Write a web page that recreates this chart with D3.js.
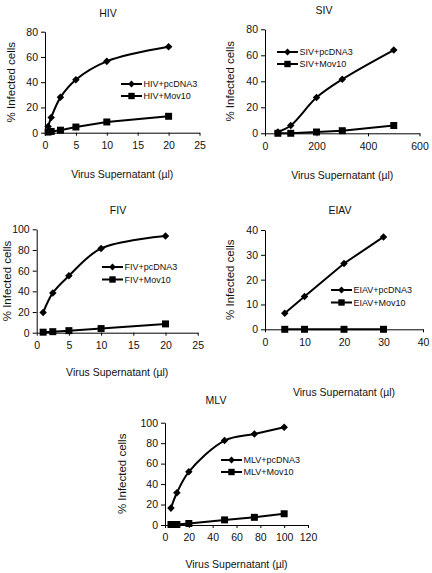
<!DOCTYPE html>
<html><head><meta charset="utf-8">
<script src="https://cdn.jsdelivr.net/npm/d3@7"></script>
<style>
html,body{margin:0;padding:0;background:#fff;}
svg text{font-family:"Liberation Sans",Arial,sans-serif;fill:#111;}
</style></head>
<body><svg id="c" width="432" height="573"></svg>
<script>
// ---- data ----
const hivDose = [0.5, 1, 2.5, 5, 10, 20];
const hivPcDNA3 = [5, 12, 28, 42, 56.5, 68];
const hivMov10 = [0.5, 1, 2, 4.5, 8.5, 13];
const hivXTicks = [0, 5, 10, 15, 20, 25];
const hivYTicks = [0, 20, 40, 60, 80];

const sivDose = [50, 100, 200, 300, 500];
const sivPcDNA3 = [1, 6, 27.5, 41.5, 64];
const sivMov10 = [0, 0, 1, 2, 6];
const sivXTicks = [0, 200, 400, 600];
const sivYTicks = [0, 20, 40, 60, 80];

const fivDose = [1, 2.5, 5, 10, 20];
const fivPcDNA3 = [19.5, 38.5, 55, 81.5, 93.5];
const fivMov10 = [0.5, 1, 2, 4, 8.5];
const fivXTicks = [0, 5, 10, 15, 20, 25];
const fivYTicks = [0, 20, 40, 60, 80, 100];

const eiavDose = [5, 10, 20, 30];
const eiavPcDNA3 = [6.5, 13.2, 26.5, 37.2];
const eiavMov10 = [0, 0, 0, 0];
const eiavXTicks = [0, 10, 20, 30, 40];
const eiavYTicks = [0, 10, 20, 30, 40];

const mlvDose = [5, 10, 20, 50, 75, 100];
const mlvPcDNA3 = [16.5, 31.5, 52, 82.5, 89, 95.5];
const mlvMov10 = [0.5, 0.5, 1.5, 5, 7.5, 11];
const mlvXTicks = [0, 20, 40, 60, 80, 100, 120];
const mlvYTicks = [0, 20, 40, 60, 80, 100];

const xLabel = "Virus Supernatant (\u00b5l)";
const yLabel = "% Infected cells";

const svg = d3.select("#c");

function panel(o) {
  const g = svg.append("g");
  const xd = o.xTicks, yd = o.yTicks;
  const x = d3.scaleLinear().domain([xd[0], xd[xd.length-1]]).range([o.l, o.r]);
  const y = d3.scaleLinear().domain([yd[0], yd[yd.length-1]]).range([o.b, o.t]);

  const xa = g.append("g").attr("transform", `translate(0,${o.b})`)
    .call(d3.axisBottom(x).tickValues(xd).tickSize(3).tickSizeOuter(0).tickPadding(6));
  const ya = g.append("g").attr("transform", `translate(${o.l},0)`)
    .call(d3.axisLeft(y).tickValues(yd).tickSize(4).tickSizeOuter(0).tickPadding(3));
  [xa, ya].forEach(a => {
    a.selectAll("path,line").attr("stroke", "#000").attr("stroke-width", 1);
    a.selectAll("text").attr("font-size", 10.5).attr("fill", "#111")
      .attr("font-family", '"Liberation Sans",Arial,sans-serif');
  });
  xa.selectAll("text").attr("dy", "0.71em");

  g.append("text").attr("x", o.tx).attr("y", o.ty).attr("text-anchor", "middle")
    .attr("font-size", 10.5).text(o.title);
  g.append("text").attr("x", (o.l + o.r) / 2).attr("y", o.xly)
    .attr("text-anchor", "middle").attr("font-size", 10.5).text(xLabel);
  g.append("text").attr("transform", `translate(${o.ylx},${(o.t + o.b) / 2}) rotate(-90)`)
    .attr("text-anchor", "middle").attr("font-size", 11.5).text(yLabel);

  const line = d3.line().x((d, i) => x(o.dose[i])).y(d => y(d));
  const series = [
    {vals: o.pc, name: o.title + "+pcDNA3", shape: "diamond", curve: o.curve1 ? d3.curveCatmullRom.alpha(0.5) : d3.curveLinear},
    {vals: o.mv, name: o.title + "+Mov10", shape: "square", curve: d3.curveLinear}
  ];
  const sym = s => s === "diamond"
    ? d3.symbol().type(d3.symbolDiamond2).size(36)()
    : d3.symbol().type(d3.symbolSquare2).size(62)();

  series.forEach((s, k) => {
    g.append("path").datum(s.vals).attr("fill", "none").attr("stroke", "#000")
      .attr("stroke-width", 2).attr("d", line.curve(s.curve));
    g.selectAll(null).data(s.vals).enter().append("path")
      .attr("transform", (d, i) => `translate(${x(o.dose[i])},${y(d)})`)
      .attr("d", sym(s.shape)).attr("fill", "#000");
    // legend
    const ly = o.ly + k * o.lgap;
    g.append("line").attr("x1", o.lx).attr("x2", o.lx + 21).attr("y1", ly).attr("y2", ly)
      .attr("stroke", "#000").attr("stroke-width", 2);
    g.append("path").attr("transform", `translate(${o.lx + 10.5},${ly})`)
      .attr("d", s.shape === "diamond" ? d3.symbol().type(d3.symbolDiamond2).size(30)() : d3.symbol().type(d3.symbolSquare2).size(52)())
      .attr("fill", "#000");
    g.append("text").attr("x", o.lx + 22.5).attr("y", ly + 3.2).attr("font-size", 9).text(s.name);
  });
}

panel({title: "HIV", dose: hivDose, pc: hivPcDNA3, mv: hivMov10, xTicks: hivXTicks, yTicks: hivYTicks,
  l: 45, r: 199.5, t: 31.7, b: 132.7, tx: 108, ty: 17, xly: 178, ylx: 15, lx: 121, ly: 84, lgap: 12, curve1: true});
panel({title: "SIV", dose: sivDose, pc: sivPcDNA3, mv: sivMov10, xTicks: sivXTicks, yTicks: sivYTicks,
  l: 265, r: 419.5, t: 29.3, b: 133.3, tx: 324, ty: 14, xly: 179, ylx: 234, lx: 277, ly: 52, lgap: 12, curve1: true});
panel({title: "FIV", dose: fivDose, pc: fivPcDNA3, mv: fivMov10, xTicks: fivXTicks, yTicks: fivYTicks,
  l: 36.7, r: 197.7, t: 229.3, b: 332.7, tx: 118, ty: 214, xly: 376, ylx: 11, lx: 102, ly: 267, lgap: 12.5, curve1: true});
panel({title: "EIAV", dose: eiavDose, pc: eiavPcDNA3, mv: eiavMov10, xTicks: eiavXTicks, yTicks: eiavYTicks,
  l: 265, r: 423, t: 230, b: 329.3, tx: 340, ty: 214, xly: 396, ylx: 234, lx: 331, ly: 290, lgap: 12.5, curve1: false});
panel({title: "MLV", dose: mlvDose, pc: mlvPcDNA3, mv: mlvMov10, xTicks: mlvXTicks, yTicks: mlvYTicks,
  l: 165, r: 308, t: 422.7, b: 525, tx: 216, ty: 404, xly: 568, ylx: 126, lx: 221, ly: 460, lgap: 12, curve1: true});
</script></body></html>
